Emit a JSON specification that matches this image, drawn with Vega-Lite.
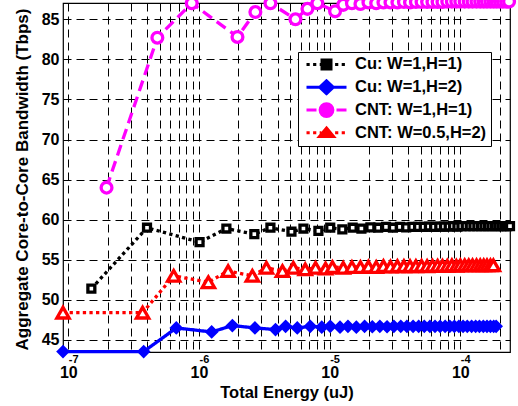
{
  "$schema": "https://vega.github.io/schema/vega-lite/v6.json",
  "width": 447,
  "height": 349,
  "autosize": {"type": "none"},
  "padding": {"left": 63, "top": 3, "right": 8, "bottom": 54},
  "config": {
    "font": "Liberation Sans",
    "view": {"stroke": "black", "strokeWidth": 1.2},
    "axis": {"labelColor": "black", "titleColor": "black"}
  },
  "datasets": {
    "d": [
      {"s": "Cu: W=1,H=1)", "e": 1.5e-7, "bw": 51.4},
      {"s": "Cu: W=1,H=1)", "e": 4.0e-7, "bw": 59.0},
      {"s": "Cu: W=1,H=1)", "e": 1.01e-6, "bw": 57.2},
      {"s": "Cu: W=1,H=1)", "e": 1.62e-6, "bw": 58.9},
      {"s": "Cu: W=1,H=1)", "e": 2.65e-6, "bw": 58.2},
      {"s": "Cu: W=1,H=1)", "e": 3.52e-6, "bw": 59.0},
      {"s": "Cu: W=1,H=1)", "e": 5.1e-6, "bw": 58.5},
      {"s": "Cu: W=1,H=1)", "e": 6.3e-6, "bw": 58.9},
      {"s": "Cu: W=1,H=1)", "e": 8.2e-6, "bw": 58.6},
      {"s": "Cu: W=1,H=1)", "e": 1.01e-5, "bw": 59.0},
      {"s": "Cu: W=1,H=1)", "e": 1.25e-5, "bw": 58.8},
      {"s": "Cu: W=1,H=1)", "e": 1.5e-5, "bw": 59.0},
      {"s": "Cu: W=1,H=1)", "e": 1.75e-5, "bw": 58.9},
      {"s": "Cu: W=1,H=1)", "e": 2.05e-5, "bw": 59.05},
      {"s": "Cu: W=1,H=1)", "e": 2.35e-5, "bw": 59.0},
      {"s": "Cu: W=1,H=1)", "e": 2.7e-5, "bw": 59.1},
      {"s": "Cu: W=1,H=1)", "e": 3.05e-5, "bw": 59.0},
      {"s": "Cu: W=1,H=1)", "e": 3.45e-5, "bw": 59.1},
      {"s": "Cu: W=1,H=1)", "e": 3.85e-5, "bw": 59.05},
      {"s": "Cu: W=1,H=1)", "e": 4.3e-5, "bw": 59.1},
      {"s": "Cu: W=1,H=1)", "e": 4.75e-5, "bw": 59.1},
      {"s": "Cu: W=1,H=1)", "e": 5.25e-5, "bw": 59.1},
      {"s": "Cu: W=1,H=1)", "e": 5.75e-5, "bw": 59.15},
      {"s": "Cu: W=1,H=1)", "e": 6.3e-5, "bw": 59.1},
      {"s": "Cu: W=1,H=1)", "e": 6.9e-5, "bw": 59.15},
      {"s": "Cu: W=1,H=1)", "e": 7.5e-5, "bw": 59.15},
      {"s": "Cu: W=1,H=1)", "e": 8.15e-5, "bw": 59.15},
      {"s": "Cu: W=1,H=1)", "e": 8.8e-5, "bw": 59.2},
      {"s": "Cu: W=1,H=1)", "e": 9.5e-5, "bw": 59.15},
      {"s": "Cu: W=1,H=1)", "e": 1.02e-4, "bw": 59.2},
      {"s": "Cu: W=1,H=1)", "e": 1.1e-4, "bw": 59.2},
      {"s": "Cu: W=1,H=1)", "e": 1.18e-4, "bw": 59.2},
      {"s": "Cu: W=1,H=1)", "e": 1.26e-4, "bw": 59.2},
      {"s": "Cu: W=1,H=1)", "e": 1.35e-4, "bw": 59.2},
      {"s": "Cu: W=1,H=1)", "e": 1.44e-4, "bw": 59.2},
      {"s": "Cu: W=1,H=1)", "e": 1.53e-4, "bw": 59.2},
      {"s": "Cu: W=1,H=1)", "e": 1.63e-4, "bw": 59.2},
      {"s": "Cu: W=1,H=1)", "e": 1.73e-4, "bw": 59.2},
      {"s": "Cu: W=1,H=1)", "e": 1.84e-4, "bw": 59.2},
      {"s": "Cu: W=1,H=1)", "e": 1.95e-4, "bw": 59.2},
      {"s": "Cu: W=1,H=1)", "e": 2.06e-4, "bw": 59.2},
      {"s": "Cu: W=1,H=1)", "e": 2.17e-4, "bw": 59.2},
      {"s": "Cu: W=1,H=1)", "e": 2.28e-4, "bw": 59.2},
      {"s": "Cu: W=1,H=1)", "e": 2.4e-4, "bw": 59.2},

      {"s": "Cu: W=1,H=2)", "e": 9.1e-8, "bw": 43.55},
      {"s": "Cu: W=1,H=2)", "e": 3.77e-7, "bw": 43.55},
      {"s": "Cu: W=1,H=2)", "e": 6.7e-7, "bw": 46.5},
      {"s": "Cu: W=1,H=2)", "e": 1.25e-6, "bw": 46.0},
      {"s": "Cu: W=1,H=2)", "e": 1.8e-6, "bw": 46.8},
      {"s": "Cu: W=1,H=2)", "e": 2.68e-6, "bw": 46.5},
      {"s": "Cu: W=1,H=2)", "e": 3.85e-6, "bw": 46.3},
      {"s": "Cu: W=1,H=2)", "e": 4.6e-6, "bw": 46.7},
      {"s": "Cu: W=1,H=2)", "e": 5.65e-6, "bw": 46.5},
      {"s": "Cu: W=1,H=2)", "e": 7.1e-6, "bw": 46.7},
      {"s": "Cu: W=1,H=2)", "e": 8.7e-6, "bw": 46.6},
      {"s": "Cu: W=1,H=2)", "e": 1.01e-5, "bw": 46.7},
      {"s": "Cu: W=1,H=2)", "e": 1.2e-5, "bw": 46.6},
      {"s": "Cu: W=1,H=2)", "e": 1.38e-5, "bw": 46.7},
      {"s": "Cu: W=1,H=2)", "e": 1.6e-5, "bw": 46.6},
      {"s": "Cu: W=1,H=2)", "e": 1.85e-5, "bw": 46.7},
      {"s": "Cu: W=1,H=2)", "e": 2.12e-5, "bw": 46.65},
      {"s": "Cu: W=1,H=2)", "e": 2.42e-5, "bw": 46.7},
      {"s": "Cu: W=1,H=2)", "e": 2.75e-5, "bw": 46.65},
      {"s": "Cu: W=1,H=2)", "e": 3.1e-5, "bw": 46.7},
      {"s": "Cu: W=1,H=2)", "e": 3.5e-5, "bw": 46.7},
      {"s": "Cu: W=1,H=2)", "e": 3.9e-5, "bw": 46.7},
      {"s": "Cu: W=1,H=2)", "e": 4.35e-5, "bw": 46.7},
      {"s": "Cu: W=1,H=2)", "e": 4.8e-5, "bw": 46.7},
      {"s": "Cu: W=1,H=2)", "e": 5.3e-5, "bw": 46.7},
      {"s": "Cu: W=1,H=2)", "e": 5.85e-5, "bw": 46.7},
      {"s": "Cu: W=1,H=2)", "e": 6.4e-5, "bw": 46.7},
      {"s": "Cu: W=1,H=2)", "e": 7.0e-5, "bw": 46.7},
      {"s": "Cu: W=1,H=2)", "e": 7.65e-5, "bw": 46.7},
      {"s": "Cu: W=1,H=2)", "e": 8.3e-5, "bw": 46.7},
      {"s": "Cu: W=1,H=2)", "e": 9.0e-5, "bw": 46.7},
      {"s": "Cu: W=1,H=2)", "e": 9.75e-5, "bw": 46.7},
      {"s": "Cu: W=1,H=2)", "e": 1.05e-4, "bw": 46.7},
      {"s": "Cu: W=1,H=2)", "e": 1.13e-4, "bw": 46.7},
      {"s": "Cu: W=1,H=2)", "e": 1.22e-4, "bw": 46.7},
      {"s": "Cu: W=1,H=2)", "e": 1.31e-4, "bw": 46.7},
      {"s": "Cu: W=1,H=2)", "e": 1.4e-4, "bw": 46.7},
      {"s": "Cu: W=1,H=2)", "e": 1.5e-4, "bw": 46.7},
      {"s": "Cu: W=1,H=2)", "e": 1.6e-4, "bw": 46.7},
      {"s": "Cu: W=1,H=2)", "e": 1.7e-4, "bw": 46.7},
      {"s": "Cu: W=1,H=2)", "e": 1.8e-4, "bw": 46.7},
      {"s": "Cu: W=1,H=2)", "e": 1.88e-4, "bw": 46.7},

      {"s": "CNT: W=1,H=1)", "e": 1.96e-7, "bw": 64.0},
      {"s": "CNT: W=1,H=1)", "e": 4.8e-7, "bw": 82.7},
      {"s": "CNT: W=1,H=1)", "e": 8.8e-7, "bw": 87.0},
      {"s": "CNT: W=1,H=1)", "e": 1.97e-6, "bw": 82.8},
      {"s": "CNT: W=1,H=1)", "e": 2.7e-6, "bw": 85.9},
      {"s": "CNT: W=1,H=1)", "e": 3.52e-6, "bw": 87.0},
      {"s": "CNT: W=1,H=1)", "e": 5.47e-6, "bw": 85.0},
      {"s": "CNT: W=1,H=1)", "e": 6.76e-6, "bw": 86.3},
      {"s": "CNT: W=1,H=1)", "e": 8.05e-6, "bw": 87.0},
      {"s": "CNT: W=1,H=1)", "e": 1.1e-5, "bw": 86.0},
      {"s": "CNT: W=1,H=1)", "e": 1.27e-5, "bw": 86.8},
      {"s": "CNT: W=1,H=1)", "e": 1.48e-5, "bw": 87.0},
      {"s": "CNT: W=1,H=1)", "e": 1.72e-5, "bw": 86.9},
      {"s": "CNT: W=1,H=1)", "e": 1.98e-5, "bw": 87.1},
      {"s": "CNT: W=1,H=1)", "e": 2.27e-5, "bw": 87.0},
      {"s": "CNT: W=1,H=1)", "e": 2.58e-5, "bw": 87.1},
      {"s": "CNT: W=1,H=1)", "e": 2.92e-5, "bw": 87.1},
      {"s": "CNT: W=1,H=1)", "e": 3.3e-5, "bw": 87.1},
      {"s": "CNT: W=1,H=1)", "e": 3.7e-5, "bw": 87.15},
      {"s": "CNT: W=1,H=1)", "e": 4.12e-5, "bw": 87.1},
      {"s": "CNT: W=1,H=1)", "e": 4.57e-5, "bw": 87.15},
      {"s": "CNT: W=1,H=1)", "e": 5.05e-5, "bw": 87.15},
      {"s": "CNT: W=1,H=1)", "e": 5.57e-5, "bw": 87.15},
      {"s": "CNT: W=1,H=1)", "e": 6.12e-5, "bw": 87.15},
      {"s": "CNT: W=1,H=1)", "e": 6.7e-5, "bw": 87.15},
      {"s": "CNT: W=1,H=1)", "e": 7.3e-5, "bw": 87.15},
      {"s": "CNT: W=1,H=1)", "e": 7.95e-5, "bw": 87.2},
      {"s": "CNT: W=1,H=1)", "e": 8.62e-5, "bw": 87.2},
      {"s": "CNT: W=1,H=1)", "e": 9.32e-5, "bw": 87.2},
      {"s": "CNT: W=1,H=1)", "e": 1.0e-4, "bw": 87.2},
      {"s": "CNT: W=1,H=1)", "e": 1.08e-4, "bw": 87.2},
      {"s": "CNT: W=1,H=1)", "e": 1.16e-4, "bw": 87.2},
      {"s": "CNT: W=1,H=1)", "e": 1.24e-4, "bw": 87.2},
      {"s": "CNT: W=1,H=1)", "e": 1.33e-4, "bw": 87.2},
      {"s": "CNT: W=1,H=1)", "e": 1.42e-4, "bw": 87.2},
      {"s": "CNT: W=1,H=1)", "e": 1.51e-4, "bw": 87.2},
      {"s": "CNT: W=1,H=1)", "e": 1.6e-4, "bw": 87.2},
      {"s": "CNT: W=1,H=1)", "e": 1.7e-4, "bw": 87.2},
      {"s": "CNT: W=1,H=1)", "e": 1.8e-4, "bw": 87.2},
      {"s": "CNT: W=1,H=1)", "e": 1.9e-4, "bw": 87.2},
      {"s": "CNT: W=1,H=1)", "e": 2.01e-4, "bw": 87.2},
      {"s": "CNT: W=1,H=1)", "e": 2.12e-4, "bw": 87.2},
      {"s": "CNT: W=1,H=1)", "e": 2.24e-4, "bw": 87.2},
      {"s": "CNT: W=1,H=1)", "e": 2.36e-4, "bw": 87.2},

      {"s": "CNT: W=0.5,H=2)", "e": 9.1e-8, "bw": 48.4},
      {"s": "CNT: W=0.5,H=2)", "e": 3.7e-7, "bw": 48.4},
      {"s": "CNT: W=0.5,H=2)", "e": 6.4e-7, "bw": 53.0},
      {"s": "CNT: W=0.5,H=2)", "e": 1.18e-6, "bw": 52.2},
      {"s": "CNT: W=0.5,H=2)", "e": 1.67e-6, "bw": 53.6},
      {"s": "CNT: W=0.5,H=2)", "e": 2.56e-6, "bw": 53.0},
      {"s": "CNT: W=0.5,H=2)", "e": 3.28e-6, "bw": 54.0},
      {"s": "CNT: W=0.5,H=2)", "e": 4.35e-6, "bw": 53.6},
      {"s": "CNT: W=0.5,H=2)", "e": 5.27e-6, "bw": 54.0},
      {"s": "CNT: W=0.5,H=2)", "e": 6.5e-6, "bw": 53.8},
      {"s": "CNT: W=0.5,H=2)", "e": 7.8e-6, "bw": 54.0},
      {"s": "CNT: W=0.5,H=2)", "e": 9.3e-6, "bw": 53.9},
      {"s": "CNT: W=0.5,H=2)", "e": 1.05e-5, "bw": 54.1},
      {"s": "CNT: W=0.5,H=2)", "e": 1.27e-5, "bw": 54.0},
      {"s": "CNT: W=0.5,H=2)", "e": 1.48e-5, "bw": 54.1},
      {"s": "CNT: W=0.5,H=2)", "e": 1.72e-5, "bw": 54.1},
      {"s": "CNT: W=0.5,H=2)", "e": 1.98e-5, "bw": 54.15},
      {"s": "CNT: W=0.5,H=2)", "e": 2.27e-5, "bw": 54.1},
      {"s": "CNT: W=0.5,H=2)", "e": 2.58e-5, "bw": 54.2},
      {"s": "CNT: W=0.5,H=2)", "e": 2.92e-5, "bw": 54.15},
      {"s": "CNT: W=0.5,H=2)", "e": 3.3e-5, "bw": 54.2},
      {"s": "CNT: W=0.5,H=2)", "e": 3.7e-5, "bw": 54.2},
      {"s": "CNT: W=0.5,H=2)", "e": 4.12e-5, "bw": 54.2},
      {"s": "CNT: W=0.5,H=2)", "e": 4.57e-5, "bw": 54.2},
      {"s": "CNT: W=0.5,H=2)", "e": 5.05e-5, "bw": 54.25},
      {"s": "CNT: W=0.5,H=2)", "e": 5.57e-5, "bw": 54.2},
      {"s": "CNT: W=0.5,H=2)", "e": 6.12e-5, "bw": 54.25},
      {"s": "CNT: W=0.5,H=2)", "e": 6.7e-5, "bw": 54.25},
      {"s": "CNT: W=0.5,H=2)", "e": 7.3e-5, "bw": 54.25},
      {"s": "CNT: W=0.5,H=2)", "e": 7.95e-5, "bw": 54.25},
      {"s": "CNT: W=0.5,H=2)", "e": 8.62e-5, "bw": 54.3},
      {"s": "CNT: W=0.5,H=2)", "e": 9.32e-5, "bw": 54.25},
      {"s": "CNT: W=0.5,H=2)", "e": 1.0e-4, "bw": 54.3},
      {"s": "CNT: W=0.5,H=2)", "e": 1.08e-4, "bw": 54.3},
      {"s": "CNT: W=0.5,H=2)", "e": 1.16e-4, "bw": 54.3},
      {"s": "CNT: W=0.5,H=2)", "e": 1.24e-4, "bw": 54.3},
      {"s": "CNT: W=0.5,H=2)", "e": 1.33e-4, "bw": 54.3},
      {"s": "CNT: W=0.5,H=2)", "e": 1.42e-4, "bw": 54.3},
      {"s": "CNT: W=0.5,H=2)", "e": 1.51e-4, "bw": 54.3},
      {"s": "CNT: W=0.5,H=2)", "e": 1.6e-4, "bw": 54.3},
      {"s": "CNT: W=0.5,H=2)", "e": 1.7e-4, "bw": 54.3},
      {"s": "CNT: W=0.5,H=2)", "e": 1.79e-4, "bw": 54.3}
    ]
  },
  "data": {"name": "d"},
  "layer": [
    {
      "mark": {"type": "line", "clip": false},
      "encoding": {
        "x": {
          "field": "e", "type": "quantitative",
          "scale": {"type": "log", "domain": [9.1e-8, 2.4e-4], "nice": false},
          "axis": {
            "orient": "bottom",
            "values": [1e-7, 2e-7, 3e-7, 4e-7, 5e-7, 6e-7, 7e-7, 8e-7, 9e-7, 1e-6, 2e-6, 3e-6, 4e-6, 5e-6, 6e-6, 7e-6, 8e-6, 9e-6, 1e-5, 2e-5, 3e-5, 4e-5, 5e-5, 6e-5, 7e-5, 8e-5, 9e-5, 1e-4, 2e-4],
            "labelExpr": "abs(log(datum.value)/LN10 - round(log(datum.value)/LN10)) < 0.01 ? '10' : ''",
            "labelOverlap": false, "labelFlush": false,
            "labelFontSize": 16, "labelFontWeight": "bold",
            "labelBaseline": "alphabetic", "labelPadding": 25, "labelDx": -7,
            "grid": true, "gridDash": [8, 5], "gridColor": "black", "gridWidth": 1, "gridOpacity": 1,
            "ticks": false, "domain": false,
            "title": "Total Energy (uJ)", "titleFontSize": 16.5, "titleFontWeight": "bold",
            "titleBaseline": "alphabetic", "titleX": 223.5, "titleY": 45
          }
        },
        "y": {
          "field": "bw", "type": "quantitative",
          "scale": {"domain": [43.5, 87.03], "nice": false, "zero": false},
          "axis": {
            "values": [45, 50, 55, 60, 65, 70, 75, 80, 85],
            "labelFontSize": 16, "labelFontWeight": "bold", "labelPadding": 4,
            "grid": true, "gridDash": [8, 5], "gridColor": "black", "gridWidth": 1, "gridOpacity": 1,
            "ticks": false, "domain": false,
            "title": "Aggregate Core-to-Core Bandwidth (Tbps)", "titleFontSize": 17, "titleFontWeight": "bold",
            "titleAngle": 270, "titleBaseline": "alphabetic", "titleAlign": "center",
            "titleX": -36, "titleY": 176
          }
        },
        "color": {
          "field": "s", "type": "nominal",
          "scale": {"domain": ["Cu: W=1,H=1)", "Cu: W=1,H=2)", "CNT: W=1,H=1)", "CNT: W=0.5,H=2)"], "range": ["#000000", "#0000ff", "#ff00ff", "#ff0000"]},
          "legend": null
        },
        "strokeDash": {
          "field": "s", "type": "nominal",
          "scale": {"domain": ["Cu: W=1,H=1)", "Cu: W=1,H=2)", "CNT: W=1,H=1)", "CNT: W=0.5,H=2)"], "range": [[3.3, 3.3], [1, 0], [11, 6], [3.3, 3.3]]},
          "legend": null
        },
        "strokeWidth": {
          "field": "s", "type": "nominal",
          "scale": {"domain": ["Cu: W=1,H=1)", "Cu: W=1,H=2)", "CNT: W=1,H=1)", "CNT: W=0.5,H=2)"], "range": [3.3, 3.3, 4, 3.3]},
          "legend": null
        }
      }
    },
    {
      "mark": {"type": "point", "opacity": 1, "clip": false},
      "encoding": {
        "x": {
          "field": "e", "type": "quantitative",
          "axis": {
            "orient": "bottom",
            "values": [1e-7, 1e-6, 1e-5, 1e-4],
            "labelExpr": "'-' + round(-log(datum.value)/LN10)",
            "labelFontSize": 11, "labelFontWeight": "bold",
            "labelBaseline": "alphabetic", "labelPadding": 10, "labelAlign": "left", "labelDx": 8,
            "labelOverlap": false, "labelFlush": false,
            "grid": false, "ticks": false, "domain": false, "title": null
          }
        },
        "y": {"field": "bw", "type": "quantitative"},
        "shape": {
          "field": "s", "type": "nominal",
          "scale": {"domain": ["Cu: W=1,H=1)", "Cu: W=1,H=2)", "CNT: W=1,H=1)", "CNT: W=0.5,H=2)"], "range": ["square", "diamond", "circle", "triangle-up"]},
          "legend": null
        },
        "stroke": {
          "field": "s", "type": "nominal",
          "scale": {"domain": ["Cu: W=1,H=1)", "Cu: W=1,H=2)", "CNT: W=1,H=1)", "CNT: W=0.5,H=2)"], "range": ["#000000", "#0000ff", "#ff00ff", "#ff0000"]},
          "legend": null
        },
        "fill": {
          "field": "s", "type": "nominal",
          "scale": {"domain": ["Cu: W=1,H=1)", "Cu: W=1,H=2)", "CNT: W=1,H=1)", "CNT: W=0.5,H=2)"], "range": ["#ffffff", "#0000ff", "#ffffff", "#ffffff"]},
          "legend": null
        },
        "strokeWidth": {
          "field": "s", "type": "nominal",
          "scale": {"domain": ["Cu: W=1,H=1)", "Cu: W=1,H=2)", "CNT: W=1,H=1)", "CNT: W=0.5,H=2)"], "range": [3.4, 2, 2.8, 4]},
          "legend": null
        },
        "size": {
          "field": "s", "type": "nominal",
          "scale": {"domain": ["Cu: W=1,H=1)", "Cu: W=1,H=2)", "CNT: W=1,H=1)", "CNT: W=0.5,H=2)"], "range": [48, 150, 95, 80]},
          "legend": null
        }
      }
    },
    {
      "transform": [{"filter": "datum.s == 'none'"}],
      "mark": {"type": "point", "opacity": 1, "strokeWidth": 3},
      "encoding": {
        "shape": {
          "field": "s", "type": "nominal",
          "scale": {
            "domain": ["Cu: W=1,H=1)", "Cu: W=1,H=2)", "CNT: W=1,H=1)", "CNT: W=0.5,H=2)"],
            "range": [
              "M-0.85,0h0.16M-0.52,0h0.16M-0.19,0h0.08M0.58,0h0.16M0.91,0h0.16M-0.075,-0.225h0.45v0.45h-0.45z",
              "M-0.85,0H1.15M0.15,-0.32L0.49,0L0.15,0.32L-0.19,0Z",
              "M-0.85,0H-0.35M0.65,0H1.15M0.47,0A0.32,0.32,0,1,1,-0.17,0A0.32,0.32,0,1,1,0.47,0Z",
              "M-0.85,0h0.16M-0.52,0h0.16M-0.19,0h0.08M0.58,0h0.16M0.91,0h0.16M0.15,-0.24L0.5,0.18L-0.2,0.18Z"
            ]
          },
          "legend": {"title": null, "orient": "none", "legendX": 235, "legendY": 49, "symbolSize": 1600, "clipHeight": 16.9, "rowPadding": 5.8, "padding": 4, "labelFontSize": 16.5, "labelFontWeight": "bold", "labelColor": "black", "labelOffset": 10, "labelLimit": 300, "strokeColor": "black", "fillColor": "white", "symbolStrokeWidth": 3, "symbolOpacity": 1, "cornerRadius": 0}
        },
        "stroke": {
          "field": "s", "type": "nominal",
          "scale": {"domain": ["Cu: W=1,H=1)", "Cu: W=1,H=2)", "CNT: W=1,H=1)", "CNT: W=0.5,H=2)"], "range": ["#000000", "#0000ff", "#ff00ff", "#ff0000"]},
          "legend": {"title": null, "orient": "none", "legendX": 235, "legendY": 49, "symbolSize": 1600, "clipHeight": 16.9, "rowPadding": 5.8, "padding": 4, "labelFontSize": 16.5, "labelFontWeight": "bold", "labelColor": "black", "labelOffset": 10, "labelLimit": 300, "strokeColor": "black", "fillColor": "white", "symbolStrokeWidth": 3, "symbolOpacity": 1, "cornerRadius": 0}
        },
        "fill": {
          "field": "s", "type": "nominal",
          "scale": {"domain": ["Cu: W=1,H=1)", "Cu: W=1,H=2)", "CNT: W=1,H=1)", "CNT: W=0.5,H=2)"], "range": ["#000000", "#0000ff", "#ff00ff", "#ff0000"]},
          "legend": {"title": null, "orient": "none", "legendX": 235, "legendY": 49, "symbolSize": 1600, "clipHeight": 16.9, "rowPadding": 5.8, "padding": 4, "labelFontSize": 16.5, "labelFontWeight": "bold", "labelColor": "black", "labelOffset": 10, "labelLimit": 300, "strokeColor": "black", "fillColor": "white", "symbolStrokeWidth": 3, "symbolOpacity": 1, "cornerRadius": 0}
        }
      }
    }
  ],
  "resolve": {
    "scale": {"shape": "independent", "stroke": "independent", "fill": "independent"},
    "axis": {"x": "independent"}
  }
}
